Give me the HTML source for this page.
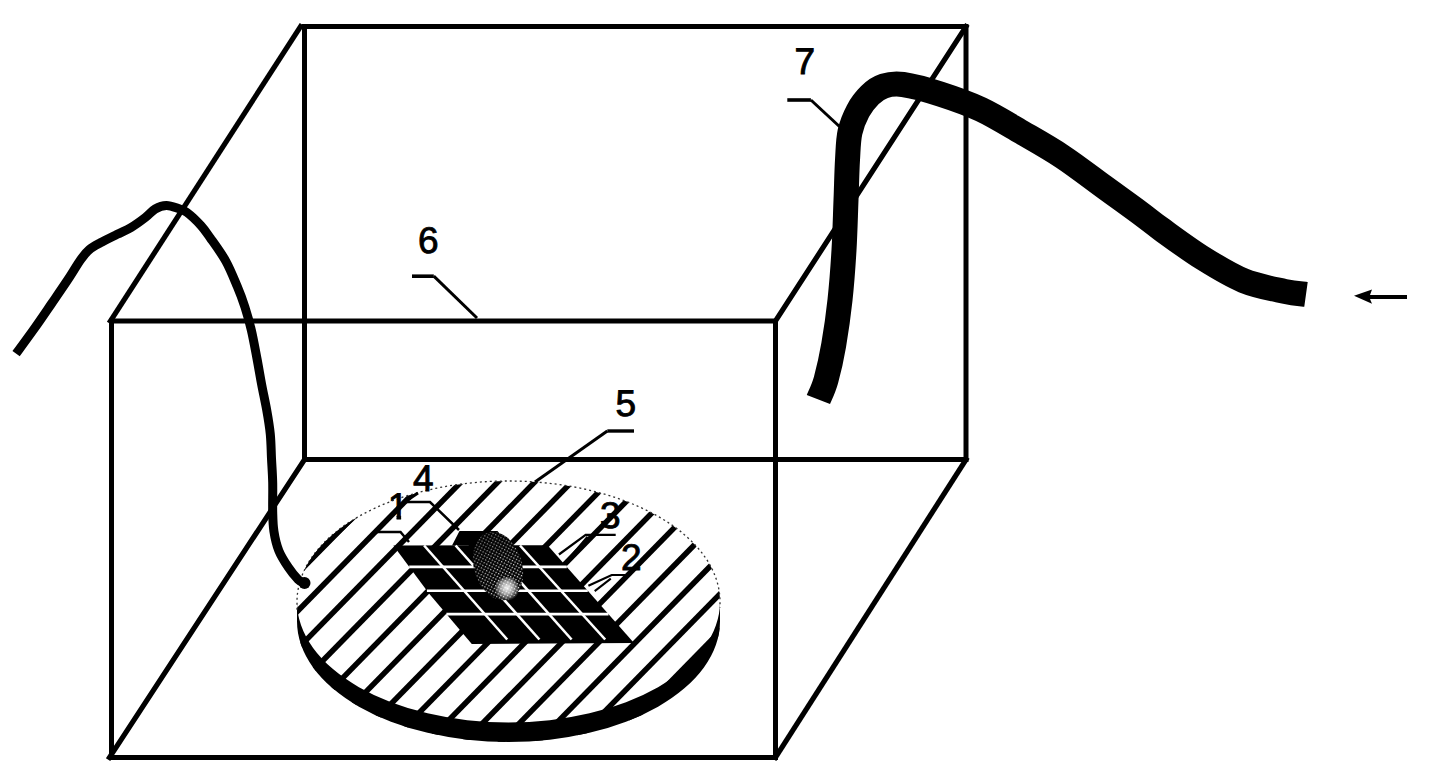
<!DOCTYPE html>
<html><head><meta charset="utf-8"><style>
html,body{margin:0;padding:0;background:#fff;width:1429px;height:783px;overflow:hidden}
svg{display:block}
text{text-rendering:geometricPrecision}
</style></head><body>
<svg width="1429" height="783" viewBox="0 0 1429 783">
<defs>
  <clipPath id="one"><rect x="382.8" y="486.79999999999995" width="30" height="27.4"/><rect x="396.5" y="512.8" width="4.6" height="8"/></clipPath>
  <clipPath id="face"><ellipse cx="508.5" cy="601.75" rx="211.5" ry="120.75"/><path d="M297.0,601.75 L297.0,621.25 A211.5,120.75 0 0 0 720.0,621.25 L720.0,601.75 Z"/></clipPath>
  <pattern id="dots" width="3" height="3" patternUnits="userSpaceOnUse" patternTransform="rotate(45)">
    <rect x="0" y="0" width="1.3" height="1.3" fill="#fff"/>
  </pattern>
  <radialGradient id="sg" gradientUnits="userSpaceOnUse" cx="506" cy="587" r="50">
    <stop offset="0" stop-color="#fff"/>
    <stop offset="0.4" stop-color="#ddd"/>
    <stop offset="1" stop-color="#888"/>
  </radialGradient>
  <mask id="spotmask" maskUnits="userSpaceOnUse" x="400" y="500" width="200" height="150">
    <rect x="400" y="500" width="200" height="150" fill="url(#sg)"/>
  </mask>
  <radialGradient id="bright" gradientUnits="userSpaceOnUse" cx="507" cy="588" r="13">
    <stop offset="0" stop-color="#fff" stop-opacity="0.95"/>
    <stop offset="0.5" stop-color="#fff" stop-opacity="0.6"/>
    <stop offset="1" stop-color="#fff" stop-opacity="0"/>
  </radialGradient>
</defs>
<rect width="1429" height="783" fill="#fff"/>
<g stroke="#000" fill="none" stroke-linecap="square">
  <!-- back rect -->
  <rect x="304.5" y="26.5" width="661.5" height="433" stroke-width="5"/>
  <!-- diagonals -->
  <line x1="300.5" y1="26.5" x2="110.5" y2="321" stroke-width="5.2"/>
  <line x1="966" y1="26.5" x2="775.5" y2="321" stroke-width="5.2"/>
  <line x1="304.5" y1="459.5" x2="109.5" y2="757.5" stroke-width="5.2"/>
  <line x1="966" y1="459.5" x2="775.5" y2="757.5" stroke-width="5.2"/>
  <!-- front rect -->
  <rect x="111.5" y="321" width="664" height="436.5" stroke-width="5"/>
</g>
<!-- disk -->
<ellipse cx="508.5" cy="601.75" rx="211.5" ry="120.75" fill="#fff"/>
<g clip-path="url(#face)" stroke="#000" stroke-width="5.5">
<line x1="250.0" y1="546.9" x2="760.0" y2="26.7"/><line x1="250.0" y1="584.5" x2="760.0" y2="64.3"/><line x1="250.0" y1="622.1" x2="760.0" y2="101.9"/><line x1="250.0" y1="659.7" x2="760.0" y2="139.5"/><line x1="250.0" y1="697.3" x2="760.0" y2="177.1"/><line x1="250.0" y1="734.9" x2="760.0" y2="214.7"/><line x1="250.0" y1="772.5" x2="760.0" y2="252.3"/><line x1="250.0" y1="810.1" x2="760.0" y2="289.9"/><line x1="250.0" y1="847.7" x2="760.0" y2="327.5"/><line x1="250.0" y1="885.3" x2="760.0" y2="365.1"/><line x1="250.0" y1="922.9" x2="760.0" y2="402.7"/><line x1="250.0" y1="960.5" x2="760.0" y2="440.3"/><line x1="250.0" y1="998.1" x2="760.0" y2="477.9"/><line x1="250.0" y1="1035.7" x2="760.0" y2="515.5"/><line x1="250.0" y1="1073.3" x2="760.0" y2="553.1"/><line x1="250.0" y1="1110.9" x2="760.0" y2="590.7"/><line x1="250.0" y1="1148.5" x2="760.0" y2="628.3"/><line x1="250.0" y1="1186.1" x2="760.0" y2="665.9"/>
</g>
<path d="M297.0,601.75 L297.0,621.25 A211.5,120.75 0 0 0 720.0,621.25 L720.0,601.75 A211.5,120.75 0 0 1 297.0,601.75 Z" fill="#000"/>
<path d="M297.0,609.75 L297.0,601.75 A211.5,120.75 0 0 1 720.0,601.75 L720.0,607.75" fill="none" stroke="#333" stroke-width="1.3" stroke-dasharray="2 3"/>
<path d="M304.9,569 Q319.5,539.6 357.2,517.4 Q324.95,547.8 304.9,569 Z" fill="#000"/>
<!-- grid -->
<polygon points="393.4,545.5 547.6,545.2 634,643 471.8,644 429,593.6" fill="#000"/>
<polygon points="459.5,531 497.5,531 509,545.5 452,545.5" fill="#000"/>
<g stroke="#fff" stroke-width="2.6">
<line x1="409.2" y1="566.9" x2="566.8" y2="566.9"/><line x1="426.9" y1="590.7" x2="587.8" y2="590.7"/><line x1="446.4" y1="614.1" x2="608.5" y2="614.1"/>
<line x1="424.1" y1="545.5" x2="507.2" y2="639.5"/><line x1="455.6" y1="545.5" x2="539.4" y2="639.5"/><line x1="488.0" y1="545.5" x2="571.6" y2="639.5"/><line x1="520.0" y1="545.5" x2="605.2" y2="639.5"/>
</g>
<ellipse cx="498" cy="566" rx="24" ry="35" fill="#000" transform="rotate(-17 498 566)"/>
<ellipse cx="498" cy="566" rx="24" ry="35" fill="url(#dots)" mask="url(#spotmask)" transform="rotate(-17 498 566)"/>
<circle cx="507" cy="589" r="12" fill="url(#bright)"/>
<!-- cables -->
<path d="M16.1,353.6 C19.1,349.5 28.0,337.4 34.0,329.0 C40.0,320.6 46.2,311.4 51.9,303.1 C57.6,294.8 63.3,286.6 68.1,279.3 C72.9,272.1 77.2,264.5 80.7,259.6 C84.2,254.7 85.9,252.6 89.2,249.8 C92.5,247.0 95.7,245.4 100.4,242.8 C105.1,240.2 112.0,236.9 117.2,234.3 C122.4,231.7 126.6,230.1 131.3,227.3 C136.0,224.5 141.3,220.6 145.3,217.5 C149.3,214.4 151.7,211.0 155.2,209.0 C158.7,207.0 162.7,205.6 166.4,205.5 C170.1,205.4 174.2,207.1 177.6,208.3 C181.0,209.5 183.1,209.6 187.0,212.5 C190.9,215.4 197.0,221.2 200.9,225.5 C204.8,229.8 206.2,232.2 210.4,238.1 C214.6,244.0 221.3,253.0 225.8,261.1 C230.3,269.2 234.1,279.0 237.3,286.6 C240.5,294.2 242.6,299.8 244.9,307.0 C247.2,314.2 249.3,321.5 251.3,330.0 C253.3,338.5 255.2,349.2 256.9,358.1 C258.6,367.1 259.9,375.1 261.5,383.7 C263.1,392.3 265.2,401.6 266.7,410.0 C268.2,418.4 269.5,426.1 270.3,434.2 C271.1,442.3 271.1,450.4 271.5,458.5 C271.9,466.6 272.5,473.8 272.7,482.7 C272.9,491.6 272.5,503.7 272.7,511.8 C272.9,519.9 272.9,524.7 273.9,531.2 C274.9,537.7 276.4,544.5 278.8,550.6 C281.2,556.7 285.3,562.8 288.5,567.6 C291.7,572.5 295.8,577.2 298.2,579.7 C300.6,582.2 302.2,582.0 303.0,582.5" stroke="#000" stroke-width="9" fill="none" stroke-linecap="butt" stroke-linejoin="round"/>
<circle cx="304.5" cy="583" r="6" fill="#000"/>
<path d="M818.4,399.5 C819.7,396.2 823.5,389.1 826.0,380.0 C828.5,370.9 831.4,358.3 833.7,345.0 C836.0,331.7 838.3,315.8 840.0,300.0 C841.7,284.2 843.0,266.7 844.0,250.0 C845.0,233.3 845.4,215.0 846.0,200.0 C846.6,185.0 846.8,171.3 847.5,160.0 C848.2,148.7 848.2,140.2 850.0,132.0 C851.8,123.8 854.7,117.2 858.0,111.0 C861.3,104.8 865.7,99.2 870.0,95.0 C874.3,90.8 878.5,87.8 884.0,86.0 C889.5,84.2 893.7,83.2 903.0,84.5 C912.3,85.8 927.0,89.8 940.0,94.0 C953.0,98.2 967.3,103.0 980.9,109.4 C994.5,115.8 1008.1,124.4 1021.7,132.3 C1035.3,140.2 1049.0,147.8 1062.6,156.8 C1076.2,165.8 1090.5,177.0 1103.4,186.4 C1116.3,195.8 1130.3,205.8 1140.0,213.0 C1149.7,220.2 1151.4,222.0 1161.8,229.5 C1172.2,237.0 1189.0,249.5 1202.6,258.0 C1216.2,266.5 1229.9,275.0 1243.5,280.6 C1257.1,286.2 1274.0,289.1 1284.4,291.4 C1294.8,293.7 1302.4,293.9 1306.0,294.4" stroke="#000" stroke-width="25" fill="none" stroke-linecap="butt" stroke-linejoin="round"/>
<!-- arrow -->
<polygon points="1354,295.8 1372,289.5 1370,295 1407,295 1407,299 1370,299 1372,303.8" fill="#000"/>
<!-- leaders -->
<g stroke="#000" fill="none" stroke-width="3">
  <path d="M412,276.2 L433.8,276.2" stroke-width="3.6"/>
  <path d="M433.8,276.2 L477,318"/>
  <path d="M787.3,100 L810.9,100" stroke-width="3.6"/>
  <path d="M810.9,100 L840,127"/>
  <path d="M634,431 L607.3,431" stroke-width="3.4"/>
  <path d="M607.3,431 L535,482"/>
  <path d="M377,532 L400.5,532 L409,542" stroke-width="2.5"/>
  <path d="M404,502 L430,502 L459,530" stroke-width="2.5"/>
  <path d="M409,499 L418,493" stroke-width="3"/>
  <path d="M615.7,534.8 L585.7,534.8 L558.9,554.5" stroke-width="2.2"/>
  <path d="M587.5,536.6 L567,560.7" stroke-width="2"/>
  <path d="M630,575 L611.7,575 L588.4,585.8" stroke-width="2.2"/>
  <path d="M610.8,578.6 L594.7,591.1" stroke-width="2"/>
</g>
<!-- labels -->
<g font-family="Liberation Sans, sans-serif" font-size="37" fill="#000" stroke="#000" stroke-width="0.9" transform="rotate(0.01)">
  <text x="418" y="253">6</text>
  <text x="794.4" y="73.5">7</text>
  <text x="615.5" y="415.5">5</text>
  <text x="413" y="491">4</text>
  <text x="600" y="527.5">3</text>
  <text x="621.2" y="570">2</text>
</g>
<g font-family="Liberation Sans, sans-serif" font-size="37" fill="#000" stroke="#000" stroke-width="0.9" clip-path="url(#one)"><text x="387.8" y="518.8">1</text></g>
</svg>
</body></html>
